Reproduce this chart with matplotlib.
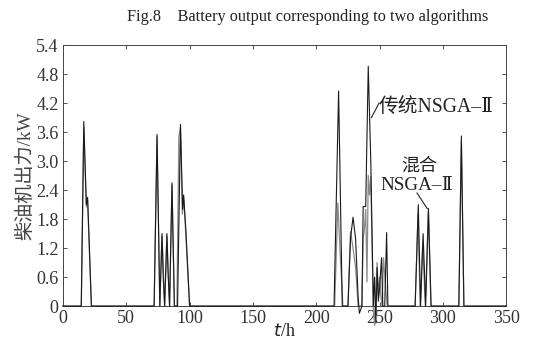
import matplotlib
matplotlib.use("Agg")
import matplotlib.pyplot as plt

# traditional NSGA-II (black)
t_trad = [0, 14.5, 16.5, 18.5, 19.5, 22.5,
          72, 74.3, 76.5, 78.2, 79.2, 80.3, 82.1, 83, 84.2, 86.1, 88, 90.5, 92.8, 94.5, 95.3, 97, 100,
          214, 217.6, 220.5, 225, 227, 229, 231, 233, 234, 236, 237, 239, 241, 243, 245, 246, 247, 248,
          249, 250, 251.5, 252.5, 254, 255.5, 256.5,
          278, 280.5, 282.3, 284.3, 286.3, 288.5, 290.6,
          312.5, 314.5, 316.5, 350]
p_trad = [0, 0, 3.82, 2.1, 2.25, 0,
          0, 3.55, 0, 1.5, 0.6, 0, 1.5, 0.7, 0, 2.55, 0, 0, 3.76, 2.0, 2.3, 1.6, 0,
          0, 4.45, 0, 0, 1.4, 1.84, 1.4, 0.2, -0.15, 0, 2.06, 2.06, 4.96, 3.0, 0, 0.6, -0.35, 0.8,
          0.1, 0.4, 1.0, 0.0, 0, 1.52, 0,
          0, 2.1, 0, 1.5, 0, 2.02, 0,
          0, 3.52, 0, 0]

# hybrid NSGA-II (grey)
t_hyb = [0, 14.5, 16.5, 18.5, 19.5, 22.5,
         72, 74.3, 76.5, 78.2, 79.2, 80.3, 82.1, 83, 84.2, 86.1, 88, 90, 91.5, 92.8, 94.3, 95.3, 97, 100,
         214.5, 217, 219, 221, 225, 227, 229, 231, 233, 236, 237, 238, 239, 240, 241, 242, 243, 245,
         246, 247, 248, 249, 250, 251, 252, 253, 255, 256,
         278, 280.3, 282, 284, 286, 288.5, 290.5,
         312.5, 314.5, 316.5, 350]
p_hyb = [0, 0, 3.7, 2.05, 2.2, 0,
         0, 3.5, 0, 1.45, 0.8, 0, 1.45, 0.8, 0, 2.5, 0, 0, 3.5, 3.7, 1.9, 2.25, 1.5, 0,
         0, 2.13, 1.0, 0, 0, 1.54, 1.2, 0.8, 0, 0, 1.4, 1.6, 2.0, 0.5, 2.7, 2.3, 2.68, 0,
         -0.4, 0.3, 0.9, 0.2, 0.6, 0.2, 0, 1.0, 0.3, 0,
         0, 1.9, 0, 1.3, 0, 1.95, 0,
         0, 3.4, 0, 0]

xticks = [0, 50, 100, 150, 200, 250, 300, 350]
yticks = [0, 0.6, 1.2, 1.8, 2.4, 3.0, 3.6, 4.2, 4.8, 5.4]
ylabels = ["0", "0.6", "1.2", "1.8", "2.4", "3.0", "3.6", "4.2", "4.8", "5.4"]

serif = ["Liberation Serif", "DejaVu Serif", "Noto Sans CJK SC"]
plt.rcParams["font.family"] = serif

fig = plt.figure(figsize=(5.33, 3.42), dpi=100)
ax = fig.add_axes([0.118, 0.105, 0.832, 0.763])

ax.plot(t_hyb, p_hyb, color="#8a8a8a", lw=0.9, clip_on=False, zorder=2)
ax.plot(t_trad, p_trad, color="#1a1a1a", lw=0.8, clip_on=False, zorder=3)

ax.set_xlim(0, 350)
ax.set_ylim(0, 5.4)
ax.set_xticks(xticks)
ax.set_yticks(yticks)
ax.set_yticklabels(ylabels)
ax.tick_params(direction="in", length=3, width=0.6, top=True, right=True,
               labelsize=13, pad=3, colors="#333333")
for s in ax.spines.values():
    s.set_linewidth(0.7)
    s.set_color("#444444")

ax.set_xlabel("$t$/h", fontsize=13, labelpad=-3, color="#222222")
ax.set_ylabel("柴油机出力/kW", fontsize=13.8, labelpad=1, color="#444444")

fig.text(0.578, 0.95, "Fig.8    Battery output corresponding to two algorithms",
         ha="center", va="center", fontsize=11.7, color="#222222")

# annotations
ax.plot([243.5, 249.5], [3.9, 4.2], color="#222222", lw=0.8)
ax.text(249.5, 4.12, "传统NSGA–Ⅱ", fontsize=14.2, va="center", ha="left", color="#222222")
ax.text(281.5, 2.9, "混合", fontsize=13, ha="center", va="center", color="#222222")
ax.text(279.5, 2.5, "NSGA–Ⅱ", fontsize=13.8, ha="center", va="center", color="#222222")
ax.plot([279.5, 287.5], [2.34, 2.02], color="#222222", lw=0.8)

fig.savefig("out.png", dpi=100)
